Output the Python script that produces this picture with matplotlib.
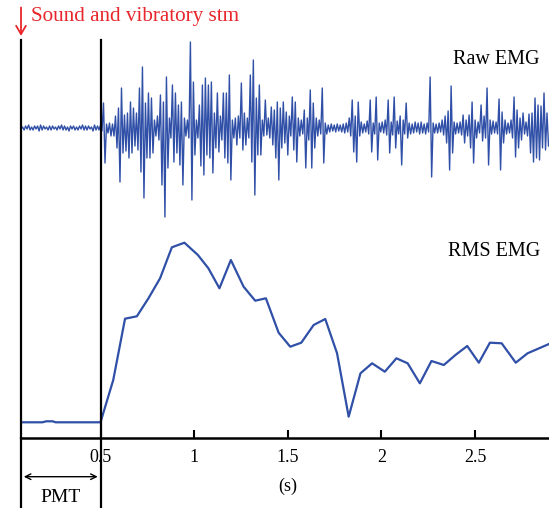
import numpy as np
import matplotlib.pyplot as plt

plt.rcParams['font.family'] = ['Liberation Serif', 'DejaVu Serif']

# RMS EMG (arbitrary units, baseline = 0)
rms_t = [0.0755, 0.19, 0.21, 0.245, 0.26, 0.5, 0.568, 0.631, 0.694, 0.756, 0.818,
         0.881, 0.948, 1.02, 1.076, 1.135, 1.196, 1.264, 1.326, 1.383, 1.451,
         1.513, 1.572, 1.638, 1.70, 1.763, 1.825, 1.888, 1.95, 2.018, 2.08,
         2.14, 2.205, 2.267, 2.333, 2.395, 2.458, 2.52, 2.579, 2.642, 2.717,
         2.78, 2.8946]
rms_v = [15.4, 15.4, 16.4, 16.4, 15.4, 15.4, 57.7, 119, 121.4, 139.4, 159.4,
         190.4, 195, 182.7, 169.4, 149.4, 177.7, 151, 137, 139.4, 105,
         91, 95, 112.7, 118.7, 84.4, 21, 64.4, 74.4, 66, 79.4,
         74.4, 54.4, 76.7, 72.7, 82.7, 91.7, 75, 95, 94.4, 75,
         84.4, 93.7]

# Raw EMG: per-sample upward / downward excursion (same units)
raw_dt = 0.016
raw_offset = 309.7
pre_hi = [2, 1, 2, 3, 1, 2, 2, 3, 2, 1, 2, 2, 1, 2, 3, 2, 1, 2, 2, 1, 2, 3, 2, 2, 1, 3, 2]
pre_lo = [1, 2, 1, 2, 2, 1, 3, 2, 1, 2, 2, 1, 2, 1, 2, 2, 3, 1, 2, 2, 1, 2, 2, 1, 3, 2, 2]
post_hi = [3, 25, 4, 5, 4, 12, 20, 40, 13, 15,
           26, 20, 15, 40, 61, 25, 35, 30, 8, 12,
           33, 26, 51, 10, 43, 35, 23, 26, 10, 8,
           86, 46, 8, 23, 43, 50, 43, 46, 15, 35,
           12, 35, 35, 53, 8, 10, 12, 45, 15, 10,
           53, 68, 30, 43, 8, 28, 10, 21, 18, 26,
           20, 26, 16, 12, 31, 26, 10, 8, 18, 10,
           38, 25, 10, 8, 40, 5, 3, 4, 3, 4,
           3, 4, 5, 10, 28, 12, 26, 6, 4, 7,
           28, 5, 31, 5, 6, 8, 28, 6, 31, 7,
           12, 8, 25, 5, 4, 6, 5, 6, 4, 5,
           51, 5, 4, 5, 8, 12, 17, 42, 6, 5,
           6, 13, 8, 13, 26, 8, 6, 23, 12, 40,
           8, 7, 6, 29, 16, 8, 5, 8, 31, 18,
           10, 15, 6, 14, 15, 30, 23, 22, 35, 15]
post_lo = [3, 35, 5, 8, 8, 20, 54, 25, 23, 30,
           25, 18, 22, 44, 70, 30, 30, 25, 8, 12,
           57, 89, 40, 10, 34, 25, 37, 57, 8, 10,
           72, 27, 10, 38, 47, 27, 30, 45, 20, 24,
           12, 30, 35, 52, 10, 17, 10, 22, 17, 10,
           34, 67, 27, 27, 8, 7, 10, 17, 30, 52,
           20, 15, 27, 8, 22, 34, 8, 6, 40, 12,
           40, 20, 8, 6, 35, 6, 4, 3, 4, 3,
           4, 5, 4, 8, 24, 34, 8, 5, 4, 6,
           24, 6, 32, 4, 5, 7, 25, 7, 20, 6,
           37, 6, 10, 6, 5, 4, 6, 5, 6, 4,
           49, 5, 5, 4, 7, 15, 42, 25, 6, 5,
           7, 15, 8, 20, 35, 10, 5, 13, 10, 37,
           6, 5, 6, 42, 15, 6, 5, 10, 29, 20,
           12, 6, 8, 25, 34, 30, 32, 20, 22, 18]

xticks = [0.5, 1, 1.5, 2, 2.5]
xticklabels = ['0.5', '1', '1.5', '2', '2.5']
t_start, t_stim, t_end = 0.0755, 0.5, 2.8946

blue = '#3050a8'

# build zigzag trace
hi = np.array(pre_hi + post_hi, dtype=float)
lo = np.array(pre_lo + post_lo, dtype=float)
t0 = np.concatenate([t_stim - raw_dt * np.arange(len(pre_hi), 0, -1),
                     t_stim + raw_dt * np.arange(len(post_hi))])
raw_t = np.empty(2 * len(t0))
raw_y = np.empty(2 * len(t0))
raw_t[0::2] = t0
raw_t[1::2] = t0 + raw_dt / 2
raw_y[0::2] = raw_offset + hi
raw_y[1::2] = raw_offset - lo
keep = (raw_t >= t_start) & (raw_t <= t_end)

fig = plt.figure(figsize=(5.49, 5.08), dpi=100)
ax = fig.add_axes([21 / 549, 70.3 / 508, 528 / 549, 397.7 / 508])

ax.plot(raw_t[keep], raw_y[keep], color=blue, lw=1.0)
ax.plot(rms_t, rms_v, color=blue, lw=1.6)

ax.set_xlim(t_start, t_end)
ax.set_ylim(0, 397.7)
for s in ['top', 'right']:
    ax.spines[s].set_visible(False)
ax.spines['bottom'].set_linewidth(1.8)
ax.spines['left'].set_linewidth(1.6)
ax.set_yticks([])
ax.set_xticks(xticks)
ax.set_xticklabels(xticklabels)
ax.tick_params(axis='x', direction='in', length=6, width=1.5, pad=8, labelsize=13)

# stimulus / onset lines extended below the axis
ax.axvline(t_start, ymin=-0.177, ymax=0, color='black', lw=1.6, clip_on=False)
ax.axvline(t_stim, ymin=-0.177, ymax=1, color='black', lw=1.6, clip_on=False)

ax.annotate('', xy=(t_start, 399), xytext=(t_start, 433),
            arrowprops=dict(arrowstyle='->,head_length=0.6,head_width=0.35',
                            color='#e8262b', lw=1.3),
            annotation_clip=False)
ax.text(0.129, 420.7, 'Sound and vibratory stm', color='#e8262b', fontsize=15.2,
        va='center', ha='left', clip_on=False)

ax.text(2.846, 377.7, 'Raw EMG', fontsize=14.5, ha='right', va='center')
ax.text(2.846, 185.7, 'RMS EMG', fontsize=14.5, ha='right', va='center')

ax.annotate('', xy=(t_start, -39), xytext=(t_stim, -39),
            arrowprops=dict(arrowstyle='<->', color='black', lw=1.0),
            annotation_clip=False)
ax.text(0.286, -60.3, 'PMT', fontsize=14, ha='center', va='center')
ax.text(1.5, -48.3, '(s)', fontsize=13, ha='center', va='center')

plt.savefig('out.png', dpi=100)
